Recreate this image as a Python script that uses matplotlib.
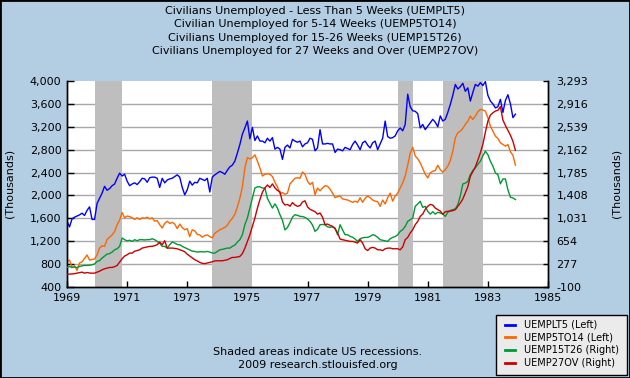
import matplotlib
matplotlib.use("Agg")
import matplotlib.pyplot as plt
import matplotlib.patches as patches
from matplotlib.lines import Line2D
import numpy as np

plt.rcParams['font.family'] = ['DejaVu Sans']

start_year = 1969
titles = [
    "Civilians Unemployed - Less Than 5 Weeks (UEMPLT5)",
    "Civilian Unemployed for 5-14 Weeks (UEMP5TO14)",
    "Civilians Unemployed for 15-26 Weeks (UEMP15T26)",
    "Civilians Unemployed for 27 Weeks and Over (UEMP27OV)",
]
labels = ["UEMPLT5 (Left)", "UEMP5TO14 (Left)", "UEMP15T26 (Right)", "UEMP27OV (Right)"]

# monthly values, Jan 1969 .. Dec 1983 (thousands)
uemplt5 = [
    1550, 1450, 1590, 1620, 1640, 1660, 1690, 1650, 1740, 1800, 1580, 1580,
    1860, 1950, 2040, 2160, 2090, 2120, 2170, 2200, 2300, 2390, 2340, 2370,
    2250, 2170, 2200, 2220, 2190, 2240, 2300, 2290, 2230, 2310, 2320, 2320,
    2300, 2140, 2300, 2220, 2270, 2290, 2300, 2330, 2360, 2320, 2140, 2010,
    2100, 2250, 2180, 2230, 2220, 2300, 2280, 2260, 2300, 2060, 2320, 2360,
    2390, 2420, 2400, 2370, 2440, 2500, 2530, 2600, 2740, 2890, 3070, 3180,
    3300, 2990, 3190, 2960, 3040, 2950, 2950, 2920, 3000, 2950, 3010, 2810,
    2840, 2810, 2630, 2840, 2880, 2830, 2980, 2950, 2930, 2950, 2850, 2900,
    2920, 3000, 2980, 2780, 2830, 3150, 2900, 2900, 2910, 2900, 2900, 2750,
    2810, 2800, 2780, 2840, 2820, 2800, 2890, 2950, 2880, 2800, 2920, 2950,
    2880, 2830, 2920, 2950, 2800, 2900, 3000, 3300, 3030, 3000, 3010, 3040,
    3130, 3180, 3130, 3240, 3770, 3550, 3480, 3470, 3430, 3180, 3240, 3150,
    3210, 3270, 3330, 3280, 3200, 3390, 3300, 3330, 3450, 3590, 3750, 3940,
    3860, 3900, 3960, 3820, 3880, 3650, 3800, 3940, 3910, 3970, 3920, 3990,
    3750, 3650, 3600, 3530, 3550, 3680, 3450, 3660, 3760, 3600, 3360, 3420,
]
uemp5to14 = [
    850, 870, 740, 770, 690, 820, 840, 900, 960, 870, 880, 890,
    960, 1080, 1120, 1110, 1230, 1270, 1310, 1370, 1490, 1570, 1700, 1610,
    1640, 1630, 1610, 1580, 1610, 1580, 1610, 1600, 1620, 1590, 1610, 1550,
    1560, 1490, 1430, 1510, 1550, 1510, 1530, 1500, 1420, 1500, 1440, 1400,
    1420, 1280, 1400, 1380, 1320, 1310, 1270, 1300, 1310, 1280, 1260, 1340,
    1370, 1400, 1420, 1440, 1480, 1550, 1600, 1670, 1800, 1950, 2150, 2480,
    2660, 2640, 2660, 2710, 2600, 2480, 2340, 2370, 2380, 2370, 2330, 2230,
    2150, 2030, 2050, 2020, 2040, 2200, 2250, 2300, 2310, 2300, 2410, 2370,
    2250, 2190, 2230, 2010, 2130, 2080, 2130, 2170, 2160, 2110, 2040, 1960,
    1980, 1990, 1940, 1930, 1920, 1900, 1880, 1900, 1880, 1960, 1880, 1950,
    1990, 1960, 1920, 1900, 1890, 1810, 1920, 1850, 1960, 2040, 1900, 1990,
    2040, 2130, 2220, 2340, 2530, 2740, 2840, 2690, 2640, 2570, 2470, 2370,
    2306, 2394, 2423, 2435, 2528, 2452, 2406, 2452, 2511, 2610, 2773, 3007,
    3095, 3124, 3171, 3241, 3299, 3387, 3328, 3387, 3463, 3504, 3492, 3474,
    3358, 3212, 3124, 3036, 2995, 2920, 2890, 2861, 2890, 2762, 2703, 2530,
]
uemp15t26 = [
    222, 238, 222, 230, 220, 238, 249, 255, 255, 258, 266, 280,
    321, 335, 376, 410, 442, 450, 475, 513, 530, 569, 706, 680,
    660, 670, 651, 679, 662, 679, 679, 675, 679, 680, 695, 679,
    651, 620, 569, 569, 541, 596, 640, 624, 600, 596, 569, 550,
    530, 510, 490, 486, 475, 480, 480, 478, 486, 475, 460, 458,
    486, 513, 520, 530, 541, 541, 569, 590, 640, 679, 760, 926,
    1036, 1200, 1370, 1530, 1550, 1550, 1530, 1530, 1360, 1280, 1200, 1270,
    1200, 1090, 1000, 840, 880, 960, 1050, 1091, 1080, 1064, 1060, 1047,
    1020, 981, 920, 816, 850, 926, 930, 926, 890, 883, 890, 871,
    761, 926, 840, 761, 761, 734, 720, 690, 651, 695, 710, 717,
    717, 734, 761, 750, 717, 679, 670, 662, 651, 695, 717, 730,
    761, 816, 844, 899, 981, 1009, 1036, 1229, 1268, 1312, 1210, 1229,
    1146, 1100, 1140, 1100, 1130, 1119, 1100, 1064, 1130, 1160, 1174, 1185,
    1257, 1400, 1598, 1610, 1640, 1752, 1820, 1862, 1920, 1972, 2060, 2137,
    2080, 1972, 1890, 1780, 1750, 1600, 1680, 1680, 1500, 1378, 1367, 1340,
]
uemp27ov = [
    112, 112, 115, 120, 128, 135, 145, 128, 139, 130, 128, 128,
    145, 160, 183, 200, 211, 222, 222, 235, 255, 310, 365, 410,
    431, 458, 458, 490, 500, 513, 541, 550, 560, 569, 569, 580,
    596, 640, 596, 662, 541, 541, 541, 535, 530, 513, 500, 480,
    440, 410, 380, 350, 330, 305, 290, 285, 295, 305, 315, 330,
    332, 332, 332, 340, 348, 370, 387, 387, 395, 403, 450, 540,
    651, 760, 900, 1036, 1200, 1339, 1460, 1532, 1580, 1540, 1598, 1532,
    1490, 1470, 1300, 1250, 1260, 1230, 1290, 1250, 1229, 1240, 1300, 1320,
    1220, 1180, 1160, 1140, 1100, 1119, 1050, 926, 937, 915, 899, 860,
    789, 690, 679, 670, 662, 651, 651, 640, 624, 679, 624, 530,
    500, 541, 552, 541, 513, 513, 500, 530, 540, 541, 530, 530,
    530, 513, 560, 679, 717, 789, 844, 926, 981, 1064, 1102, 1180,
    1229, 1260, 1250, 1200, 1174, 1150, 1100, 1140, 1146, 1150, 1158, 1174,
    1229, 1284, 1350, 1450, 1550, 1724, 1800, 1880, 1990, 2110, 2250, 2450,
    2630, 2730, 2770, 2798, 2810, 2870, 2650, 2560, 2480, 2400, 2300, 2150,
]

recession_starts = [1969 + 11/12, 1973 + 10/12, 1980.0, 1981 + 6/12]
recession_ends = [1970 + 10/12, 1975 + 2/12, 1980 + 6/12, 1982 + 10/12]

left_ticks = [400, 800, 1200, 1600, 2000, 2400, 2800, 3200, 3600, 4000]
right_ticks = [-100, 277, 654, 1031, 1408, 1785, 2162, 2539, 2916, 3293]
x_ticks = [1969, 1971, 1973, 1975, 1977, 1979, 1981, 1983, 1985]

colors = ["#0000FF", "#FF6600", "#009933", "#CC0000"]
bg = "#B3CDE3"

W, H = 630, 378
x = start_year + np.arange(len(uemplt5)) / 12.0

fig = plt.figure(figsize=(6.3, 3.78), dpi=100, facecolor=bg)
ax = fig.add_axes([67/W, 1 - 287/H, (548 - 67)/W, (287 - 81)/H])
ax.set_facecolor("white")
ax2 = ax.twinx()

ax.set_xlim(1969, 1985)
ax.set_ylim(left_ticks[0], left_ticks[-1])
ax2.set_ylim(right_ticks[0], right_ticks[-1])

for t in left_ticks[1:-1]:
    ax.axhline(t, color="#A8A8A8", lw=1.0, zorder=1)
for s, e in zip(recession_starts, recession_ends):
    ax.axvspan(s, e, color="#BEBEBE", lw=0, zorder=2)

ax.plot(x, uemplt5, color=colors[0], lw=1.0, zorder=3)
ax.plot(x, uemp5to14, color=colors[1], lw=1.0, zorder=3)
ax2.plot(x, uemp15t26, color=colors[2], lw=1.0, zorder=3)
ax2.plot(x, uemp27ov, color=colors[3], lw=1.0, zorder=3)

ax.set_yticks(left_ticks)
ax.set_yticklabels([f"{v:,}" for v in left_ticks])
ax2.set_yticks(right_ticks)
ax2.set_yticklabels([f"{v:,}" for v in right_ticks])
ax.set_xticks(x_ticks)
ax.set_xticklabels([str(v) for v in x_ticks])

ax.tick_params(axis="y", direction="in", length=5, width=1, labelsize=8, pad=4)
ax.tick_params(axis="x", direction="in", length=4, width=1, labelsize=8, pad=4)
ax2.tick_params(axis="y", direction="in", length=3.5, width=1, labelsize=8, pad=6)

for a in (ax, ax2):
    a.spines["top"].set_visible(False)
    for side in ("left", "right", "bottom"):
        a.spines[side].set_color("black")
        a.spines[side].set_linewidth(1.0)

fig.text(10/W, 1 - 183/H, "(Thousands)", rotation=90, ha="center", va="center", fontsize=8)
fig.text(617/W, 1 - 183/H, "(Thousands)", rotation=90, ha="center", va="center", fontsize=8)

for i, t in enumerate(titles):
    fig.text(0.5, 1 - (10.5 + 13.6 * i)/H, t, ha="center", va="center", fontsize=8)

fig.text(318/W, 1 - 352/H, "Shaded areas indicate US recessions.", ha="center", va="center", fontsize=8)
fig.text(318/W, 1 - 365/H, "2009 research.stlouisfed.org", ha="center", va="center", fontsize=8)

# legend box drawn in figure pixel coordinates
fig.patches.append(patches.Rectangle((496/W, 1 - 375/H), 131/W, 60/H, transform=fig.transFigure,
                                     facecolor="#EBEBEB", edgecolor="black", lw=1.0, zorder=5))
for i, (c, lab) in enumerate(zip(colors, labels)):
    yy = 1 - (324.5 + 12.7 * i)/H
    fig.add_artist(Line2D([505/W, 515/W], [yy, yy], transform=fig.transFigure, color=c, lw=2, zorder=6))
    fig.text(524/W, yy, lab, ha="left", va="center", fontsize=7, zorder=6)

fig.patches.append(patches.Rectangle((0, 0), 1, 1, transform=fig.transFigure, fill=False,
                                     edgecolor="black", lw=2))

fig.savefig("out.png", dpi=100, facecolor=bg)
